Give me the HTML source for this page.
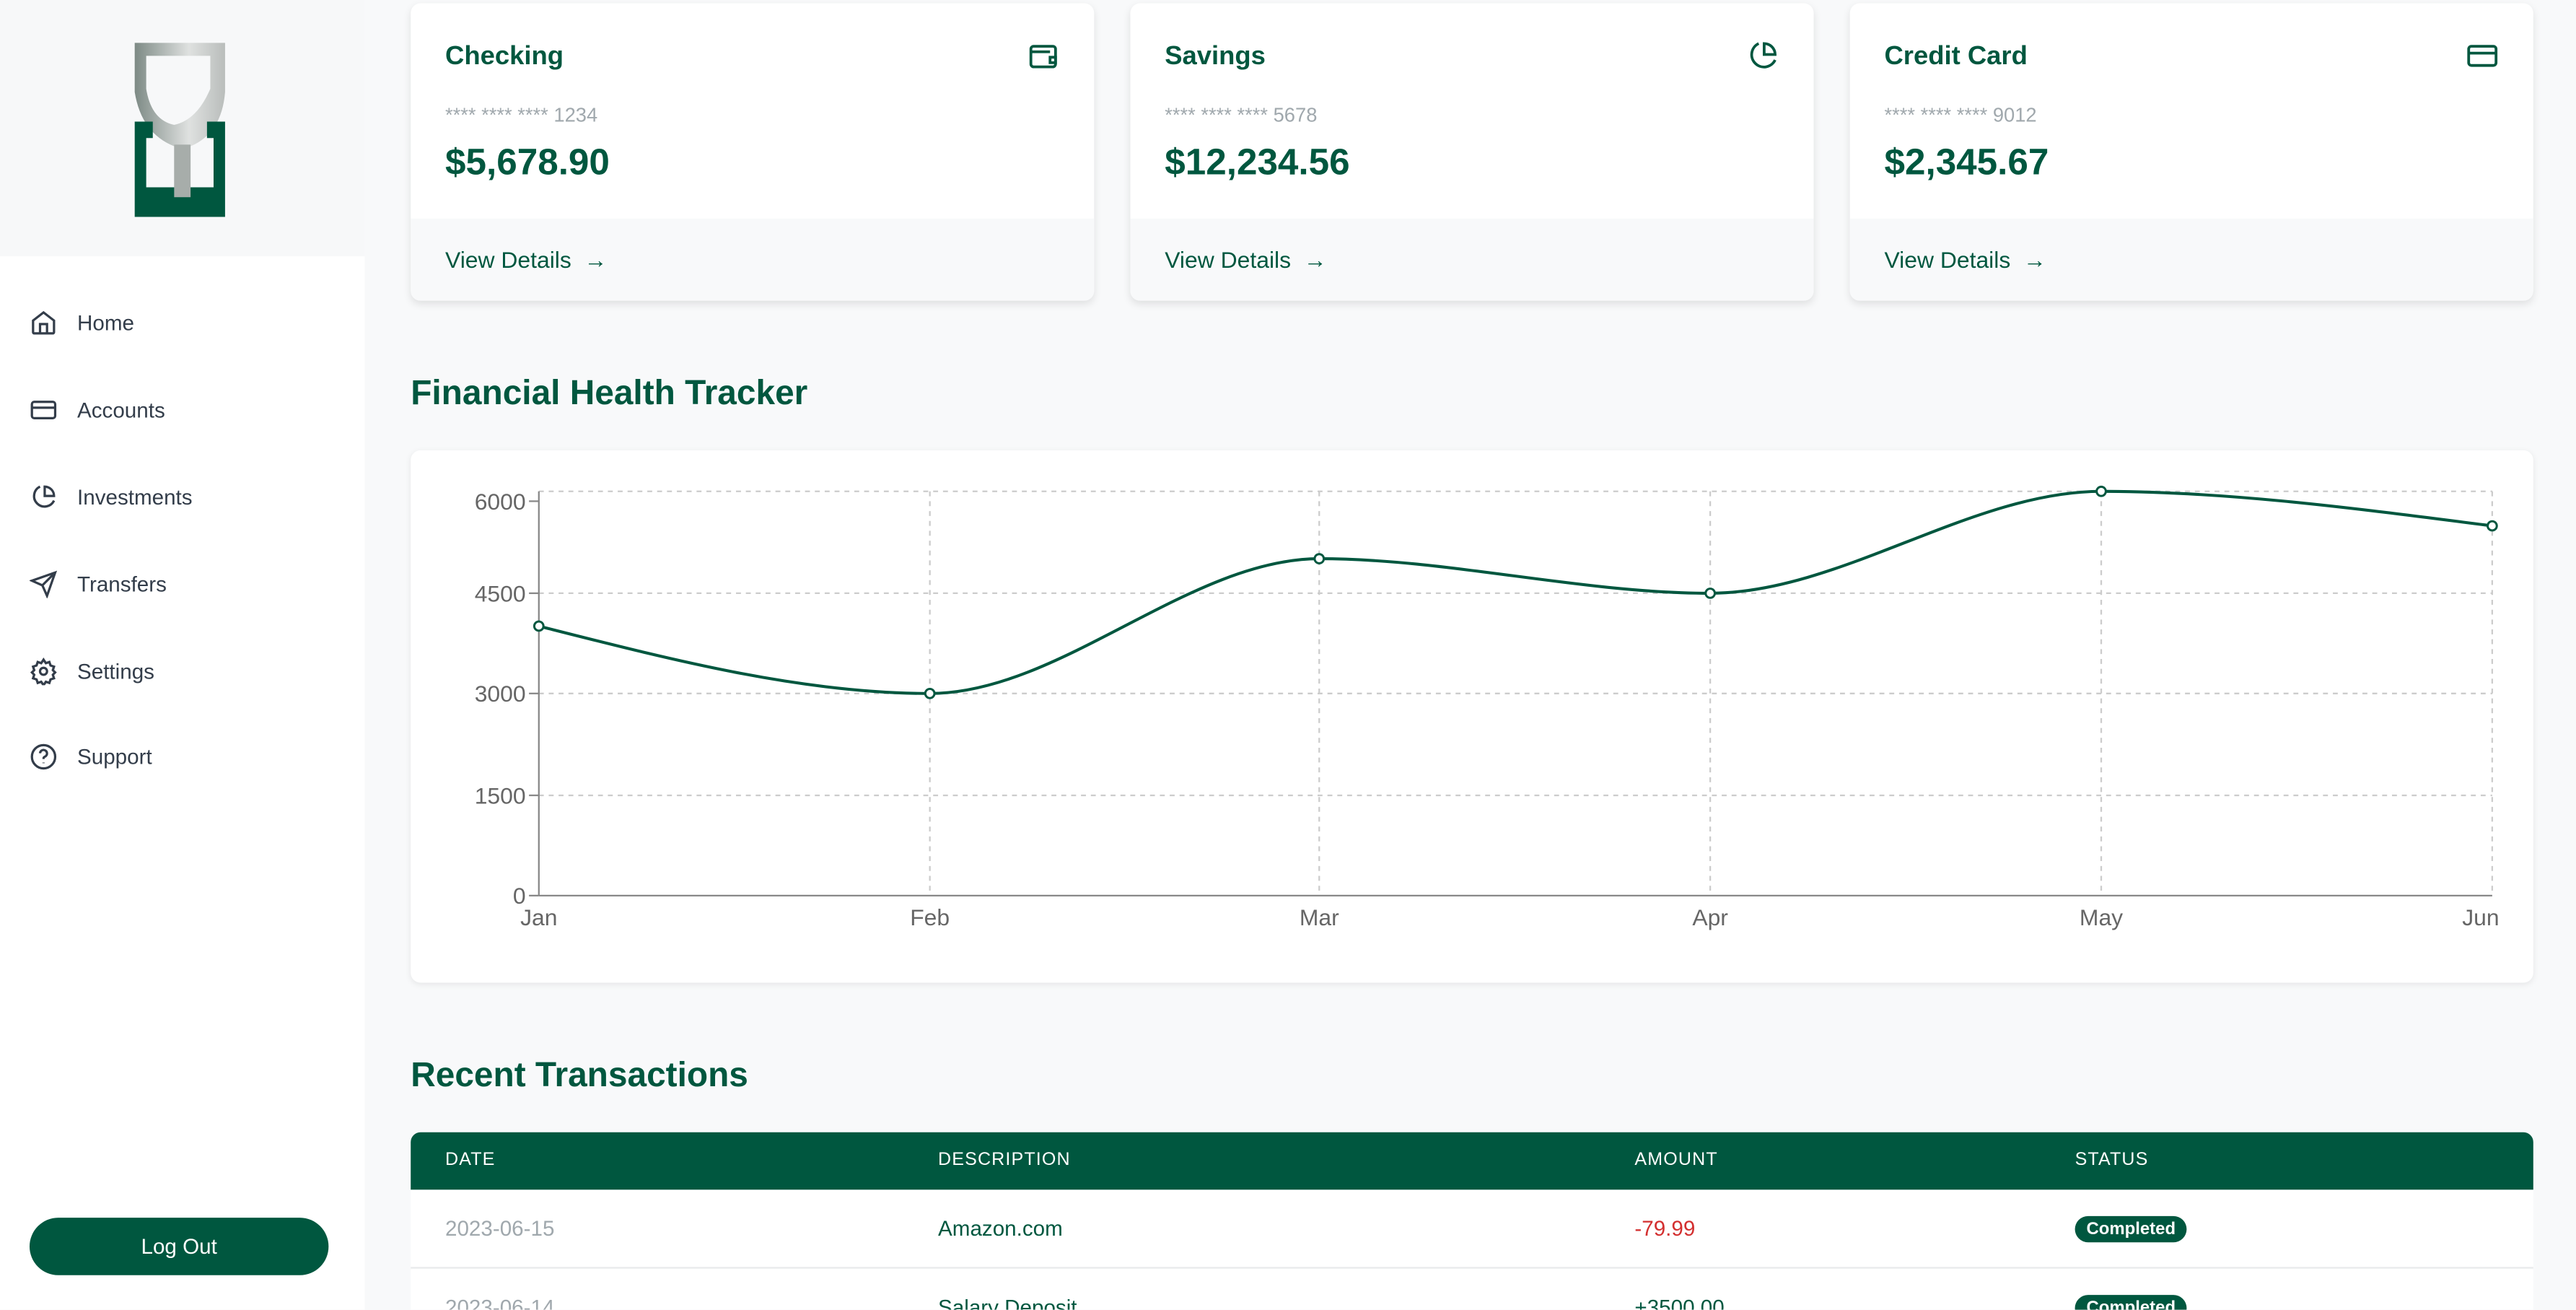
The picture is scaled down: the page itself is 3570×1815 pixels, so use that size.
<!DOCTYPE html>
<html><head><meta charset="utf-8"><style>
html,body{margin:0;padding:0;width:3570px;height:1814px;overflow:hidden;background:#f8f9fa;font-family:"Liberation Sans",sans-serif}
#w{position:absolute;left:0;top:0;width:1568px;height:797px;transform:scale(2.27679);transform-origin:0 0;background:#f8f9fa;overflow:hidden}
.a{position:absolute}
.side{left:0;top:0;width:222px;height:797px;background:#fff}
.logo{left:0;top:0;width:222px;height:156px;background:#f7f8f9}
.nav{left:18px;font-size:13px;color:#333d4a;display:flex;align-items:center;gap:12px;font-weight:500}
.nav svg{width:17px;height:17px}
.btn{left:18px;top:741px;width:182px;height:35px;border-radius:18px;background:#00573f;color:#fff;font-size:13px;text-align:center;line-height:35px}
.card{width:416px;height:181px;top:2px;background:#fff;border-radius:6px;box-shadow:0 2px 5px rgba(0,0,0,.1);overflow:hidden}
.card .t{position:absolute;left:21px;top:24px;font-size:16px;color:#00573f;font-weight:600}
.card .n{position:absolute;left:21px;top:61px;font-size:12px;color:#a0a8ad}
.card .b{position:absolute;left:21px;top:84px;font-size:22.5px;color:#00573f;font-weight:700}
.card .f{position:absolute;left:0;top:131px;width:100%;height:50px;background:#f8f9fa}
.card .v{position:absolute;left:21px;top:148px;font-size:14px;color:#00573f;font-weight:500}
.card svg.i{position:absolute;right:21px;top:22px;width:20px;height:20px}
h2{position:absolute;margin:0;font-size:21px;color:#00573f;font-weight:600}
.th{left:250px;top:689px;width:1292px;height:35px;background:#00573f;border-radius:6px 6px 0 0;color:#fff;font-size:11px;letter-spacing:.5px}
.th span,.row span{position:absolute}
.row{left:250px;width:1292px;height:47px;background:#fff;font-size:13px;border-bottom:2px solid #e8eaeb}
.badge{background:#00573f;color:#fff;font-size:10.5px;font-weight:600;border-radius:8px;padding:2px 7px}
</style></head><body><div id="w">
<div class="a side"></div>
<div class="a logo"><svg class="a" style="left:80px;top:26px" width="58" height="106" viewBox="0 0 58 106">
<defs><linearGradient id="g" x1="0" x2="1"><stop offset="0" stop-color="#7d8a85"/><stop offset=".6" stop-color="#dfe1e0"/><stop offset="1" stop-color="#b9bdbb"/></linearGradient></defs>
<path d="M2 0H57V30Q55 55 36 63V95H26V63Q6 55 2 30Z M9 8V28Q12 47 26 50Q40 47 48 28V8Z" fill="url(#g)" fill-rule="evenodd"/>
<path d="M2 48H13V58H9V88H50V58H46V48H57V106H2Z" fill="#00573f"/>
<rect x="26" y="62" width="10" height="32" fill="#a7adaa"/>
</svg></div>
<div class="a nav" style="top:188px"><svg viewBox="0 0 24 24" fill="none" stroke="#333d4a" stroke-width="2"><path d="M3 10L12 3l9 7v10a1 1 0 0 1-1 1H4a1 1 0 0 1-1-1zM9 21v-8h6v8"/></svg>Home</div>
<div class="a nav" style="top:241px"><svg viewBox="0 0 24 24" fill="none" stroke="#333d4a" stroke-width="2"><rect x="2" y="5" width="20" height="14" rx="2"/><path d="M2 10h20"/></svg>Accounts</div>
<div class="a nav" style="top:294px"><svg viewBox="0 0 24 24" fill="none" stroke="#333d4a" stroke-width="2"><path d="M21 15A9 9 0 1 1 9 3"/><path d="M13 3a8 8 0 0 1 8 8h-8z"/></svg>Investments</div>
<div class="a nav" style="top:347px"><svg viewBox="0 0 24 24" fill="none" stroke="#333d4a" stroke-width="2"><path d="M22 2L2 9l9 4 4 9zM11 13L22 2"/></svg>Transfers</div>
<div class="a nav" style="top:400px"><svg viewBox="0 0 24 24" fill="none" stroke="#333d4a" stroke-width="2"><circle cx="12" cy="12" r="3"/><path d="M12 2l2 3 3-1 1 3 3 1-1 3 2 2-2 2 1 3-3 1-1 3-3-1-2 3-2-3-3 1-1-3-3-1 1-3-2-2 2-2-1-3 3-1 1-3 3 1z"/></svg>Settings</div>
<div class="a nav" style="top:452px"><svg viewBox="0 0 24 24" fill="none" stroke="#333d4a" stroke-width="2"><circle cx="12" cy="12" r="10"/><path d="M9 9a3 3 0 1 1 4 3c-1 .5-1 1-1 2M12 17v.5"/></svg>Support</div>
<div class="a btn">Log Out</div>

<div class="a card" style="left:250px"><div class="f"></div><div class="t">Checking</div><svg class="i" viewBox="0 0 24 24" fill="none" stroke="#00573f" stroke-width="2"><rect x="3" y="5" width="18" height="15" rx="2"/><path d="M3 9h14M17 13h4v4h-4z"/></svg><div class="n">**** **** **** 1234</div><div class="b">$5,678.90</div><div class="v">View Details &nbsp;→</div></div>
<div class="a card" style="left:688px"><div class="f"></div><div class="t">Savings</div><svg class="i" viewBox="0 0 24 24" fill="none" stroke="#00573f" stroke-width="2"><path d="M21 15A9 9 0 1 1 9 3"/><path d="M13 3a8 8 0 0 1 8 8h-8z"/></svg><div class="n">**** **** **** 5678</div><div class="b">$12,234.56</div><div class="v">View Details &nbsp;→</div></div>
<div class="a card" style="left:1126px"><div class="f"></div><div class="t">Credit Card</div><svg class="i" viewBox="0 0 24 24" fill="none" stroke="#00573f" stroke-width="2"><rect x="2" y="5" width="20" height="14" rx="2"/><path d="M2 10h20"/></svg><div class="n">**** **** **** 9012</div><div class="b">$2,345.67</div><div class="v">View Details &nbsp;→</div></div>

<h2 style="left:250px;top:228px">Financial Health Tracker</h2>
<div class="a" style="left:250px;top:274px;width:1292px;height:324px;background:#fff;border-radius:6px;box-shadow:0 1px 4px rgba(0,0,0,.08)"></div>
<svg class="a" style="left:0;top:0" width="1568" height="797" font-family="Liberation Sans" font-size="14" fill="#666">
<g stroke="#ccc" stroke-dasharray="3,3" stroke-width="1">
<line x1="328" x2="1517" y1="299" y2="299"/><line x1="328" x2="1517" y1="361" y2="361"/><line x1="328" x2="1517" y1="422" y2="422"/><line x1="328" x2="1517" y1="484" y2="484"/>
<line x1="566" x2="566" y1="299" y2="545"/><line x1="803" x2="803" y1="299" y2="545"/><line x1="1041" x2="1041" y1="299" y2="545"/><line x1="1279" x2="1279" y1="299" y2="545"/><line x1="1517" x2="1517" y1="299" y2="545"/>
</g>
<g stroke="#888"><line x1="328" x2="328" y1="299" y2="545"/><line x1="328" x2="1517" y1="545" y2="545"/>
<line x1="322" x2="328" y1="305" y2="305"/><line x1="322" x2="328" y1="361" y2="361"/><line x1="322" x2="328" y1="422" y2="422"/><line x1="322" x2="328" y1="484" y2="484"/><line x1="322" x2="328" y1="545" y2="545"/></g>
<g text-anchor="end"><text x="320" y="310">6000</text><text x="320" y="366">4500</text><text x="320" y="427">3000</text><text x="320" y="489">1500</text><text x="320" y="550">0</text></g>
<g text-anchor="middle"><text x="328" y="563">Jan</text><text x="566" y="563">Feb</text><text x="803" y="563">Mar</text><text x="1041" y="563">Apr</text><text x="1279" y="563">May</text><text x="1510" y="563">Jun</text></g>
<path d="M328 381C407 401 487 422 566 422C645 422 724 340 803 340C882 340 962 361 1041 361C1120 361 1200 299 1279 299C1358 299 1438 310 1517 320" fill="none" stroke="#00573f" stroke-width="1.8"/>
<g fill="#fff" stroke="#00573f" stroke-width="1.3"><circle cx="328" cy="381" r="2.8"/><circle cx="566" cy="422" r="2.8"/><circle cx="803" cy="340" r="2.8"/><circle cx="1041" cy="361" r="2.8"/><circle cx="1279" cy="299" r="2.8"/><circle cx="1517" cy="320" r="2.8"/></g>
</svg>

<h2 style="left:250px;top:643px">Recent Transactions</h2>
<div class="a th"><span style="left:21px;top:11px">DATE</span><span style="left:321px;top:11px">DESCRIPTION</span><span style="left:745px;top:11px">AMOUNT</span><span style="left:1013px;top:11px">STATUS</span></div>
<div class="a row" style="top:724px"><span style="left:21px;top:16px;color:#a0a8ad">2023-06-15</span><span style="left:321px;top:16px;color:#00573f">Amazon.com</span><span style="left:745px;top:16px;color:#d32f2f">-79.99</span><span class="badge" style="left:1013px;top:16px">Completed</span></div>
<div class="a row" style="top:772px"><span style="left:21px;top:16px;color:#a0a8ad">2023-06-14</span><span style="left:321px;top:16px;color:#00573f">Salary Deposit</span><span style="left:745px;top:16px;color:#00573f">+3500.00</span><span class="badge" style="left:1013px;top:16px">Completed</span></div>
</div></body></html>
